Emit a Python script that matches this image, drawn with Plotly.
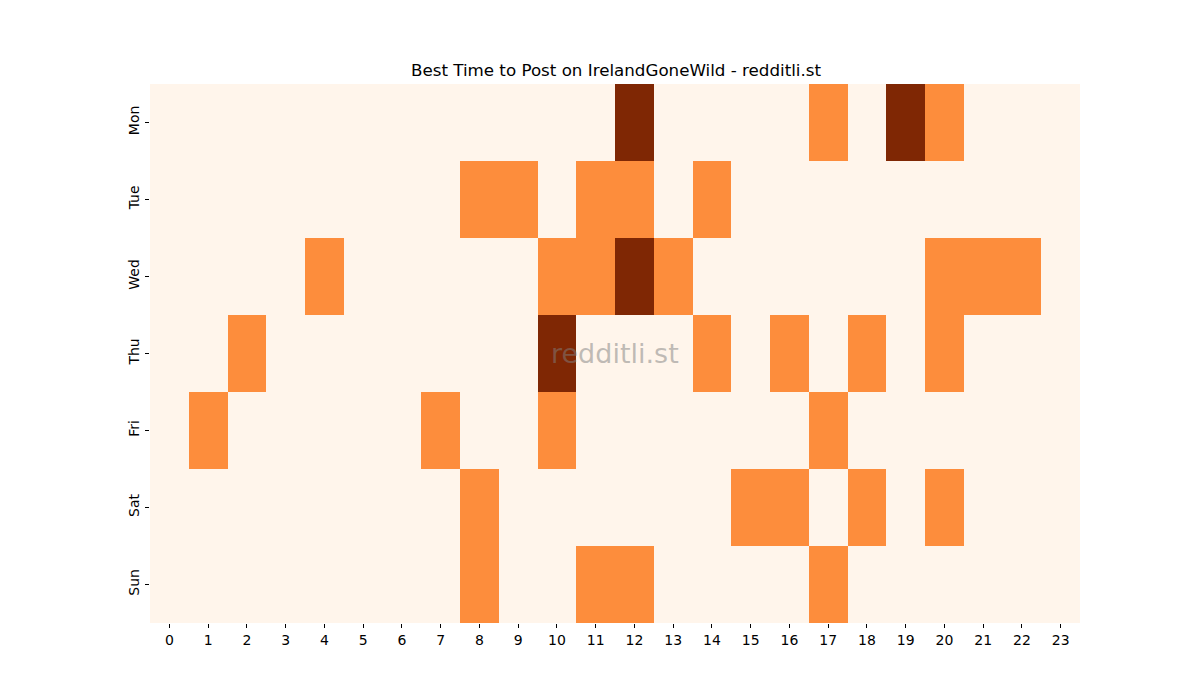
import plotly.graph_objects as go

days = ["Mon", "Tue", "Wed", "Thu", "Fri", "Sat", "Sun"]
hours = [str(h) for h in range(24)]

mon = [0,0,0,0,0,0,0,0,0,0,0,0,2,0,0,0,0,1,0,2,1,0,0,0]
tue = [0,0,0,0,0,0,0,0,1,1,0,1,1,0,1,0,0,0,0,0,0,0,0,0]
wed = [0,0,0,0,1,0,0,0,0,0,1,1,2,1,0,0,0,0,0,0,1,1,1,0]
thu = [0,0,1,0,0,0,0,0,0,0,2,0,0,0,1,0,1,0,1,0,1,0,0,0]
fri = [0,1,0,0,0,0,0,1,0,0,1,0,0,0,0,0,0,1,0,0,0,0,0,0]
sat = [0,0,0,0,0,0,0,0,1,0,0,0,0,0,0,1,1,0,1,0,1,0,0,0]
sun = [0,0,0,0,0,0,0,0,1,0,0,1,1,0,0,0,0,1,0,0,0,0,0,0]

z = [mon, tue, wed, thu, fri, sat, sun]

oranges = [
    [0.0, "#fff5eb"], [0.125, "#fee6ce"], [0.25, "#fdd0a2"], [0.375, "#fdae6b"],
    [0.5, "#fd8d3c"], [0.625, "#f16913"], [0.75, "#d94801"], [0.875, "#a63603"],
    [1.0, "#7f2704"],
]

fig = go.Figure(go.Heatmap(
    z=z, x=hours, y=days, colorscale=oranges, zmin=0, zmax=2,
    showscale=False, xgap=0, ygap=0,
))

font_family = "DejaVu Sans"
fig.update_layout(
    width=1200, height=700,
    margin=dict(l=142, r=128, t=76, b=85),
    paper_bgcolor="white", plot_bgcolor="white",
    font=dict(family=font_family, size=14, color="black"),
    title=dict(text="Best Time to Post on IrelandGoneWild - redditli.st",
               x=(150 + 1080) / 2 / 1200 - 7 / 1200, xanchor="center",
               y=1 - 62/700, yanchor="middle",
               font=dict(size=16.7, family=font_family, color="black")),
    xaxis=dict(type="category", showgrid=False, zeroline=False, showline=False,
               ticks="outside", ticklen=4, tickcolor="black",
               tickfont=dict(size=14, family=font_family)),
    yaxis=dict(type="category", autorange="reversed", showgrid=False, zeroline=False,
               showline=False, ticks="outside", ticklen=4, tickcolor="black",
               tickangle=-90, tickfont=dict(size=14, family=font_family)),
    annotations=[dict(text="redditli.st", x=0.5, y=0.5, xref="paper", yref="paper",
                      showarrow=False,
                      font=dict(size=27, family=font_family, color="rgba(128,128,128,0.5)"))],
)

fig.write_html("out.html")
